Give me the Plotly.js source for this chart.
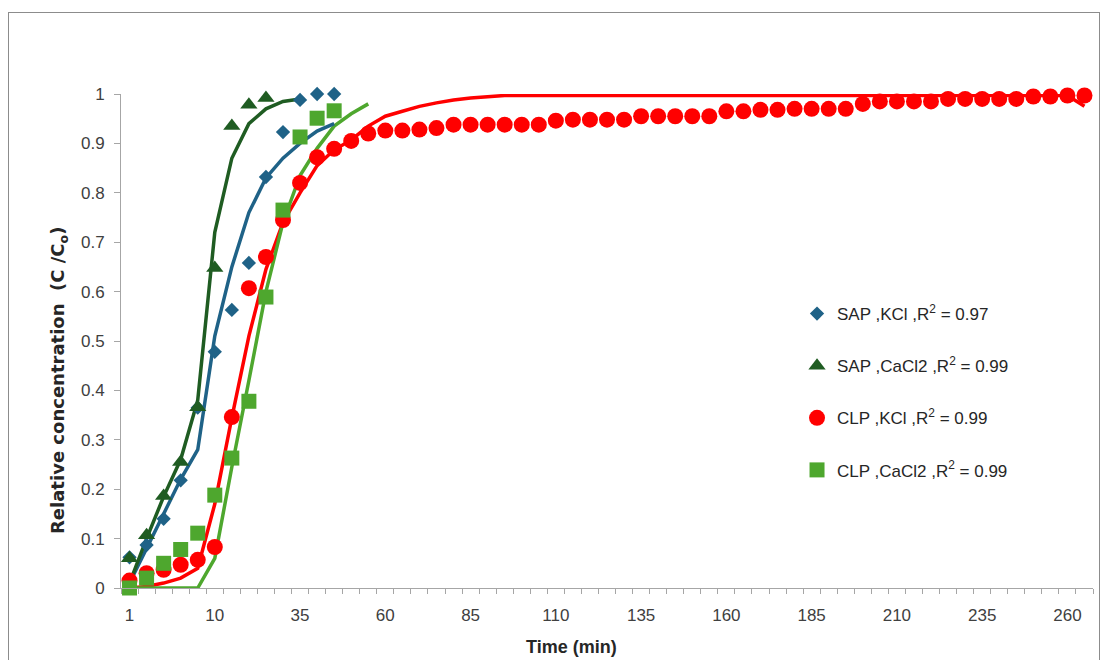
<!DOCTYPE html>
<html>
<head>
<meta charset="utf-8">
<script src="https://cdn.plot.ly/plotly-3.0.1.min.js"></script>
<style>
  html, body { margin: 0; padding: 0; background: #ffffff; }
  #wrap { position: relative; width: 1108px; height: 660px; overflow: hidden; }
  #chart { position: absolute; left: 0; top: 0; width: 1108px; height: 660px; }
  #frame { position: absolute; left: 8px; top: 12px; width: 1092px; height: 700px;
           border: 1px solid #8c8c8c; box-sizing: border-box; pointer-events: none; }
</style>
</head>
<body>
<div id="wrap">
  <div id="chart"></div>
  <div id="frame"></div>
</div>
<script>
// ---- categories (time, min) ----
const times = [1, 2, 4, 6, 8, 10, 15, 20, 25, 30, 35, 40, 45, 50, 55, 60, 65, 70, 75, 80,
  85, 90, 95, 100, 105, 110, 115, 120, 125, 130, 135, 140, 145, 150, 155, 160, 165, 170, 175, 180,
  185, 190, 195, 200, 205, 210, 215, 220, 225, 230, 235, 240, 245, 250, 255, 260, 265];

// ---- measured data ----
const sapKCl = [0.062, 0.087, 0.14, 0.218, 0.365, 0.478, 0.563, 0.658, 0.832, 0.923, 0.988, 1.0, 1.0];
const sapCaCl2 = [0.06, 0.107, 0.186, 0.255, 0.366, 0.648, 0.935, 0.978, 0.992];
const clpKCl = [0.015, 0.03, 0.037, 0.047, 0.057, 0.083, 0.346, 0.607, 0.67, 0.745,
  0.82, 0.872, 0.889, 0.905, 0.92, 0.926, 0.926, 0.928, 0.931, 0.938,
  0.938, 0.938, 0.938, 0.938, 0.938, 0.946, 0.948, 0.948, 0.948, 0.948,
  0.955, 0.955, 0.955, 0.955, 0.955, 0.965, 0.965, 0.968, 0.968, 0.970,
  0.970, 0.970, 0.970, 0.980, 0.985, 0.985, 0.985, 0.985, 0.990, 0.990,
  0.990, 0.990, 0.990, 0.995, 0.995, 0.997, 0.997];
const clpCaCl2 = [0.0, 0.02, 0.05, 0.078, 0.111, 0.188, 0.263, 0.378, 0.589, 0.765, 0.913, 0.951, 0.966];

// ---- model fits ----
const sapKClFit = [0.01, 0.08, 0.15, 0.22, 0.28, 0.51, 0.65, 0.76, 0.83, 0.87, 0.90, 0.925, 0.94];
const sapCaCl2Fit = [0.01, 0.10, 0.185, 0.26, 0.38, 0.72, 0.87, 0.94, 0.97, 0.985, 0.99];
const clpKClFit = [0.0, 0.003, 0.01, 0.02, 0.04, 0.17, 0.345, 0.51, 0.645, 0.74,
  0.80, 0.855, 0.887, 0.907, 0.935, 0.955, 0.965, 0.975, 0.982, 0.988,
  0.992, 0.995, 0.997, 0.997, 0.997, 0.997, 0.997, 0.997, 0.997, 0.997,
  0.997, 0.997, 0.997, 0.997, 0.997, 0.997, 0.997, 0.997, 0.997, 0.997,
  0.997, 0.997, 0.997, 0.997, 0.997, 0.997, 0.997, 0.997, 0.997, 0.997,
  0.997, 0.997, 0.997, 0.997, 0.997, 0.997, 0.975];
const clpCaCl2Fit = [0, 0, 0, 0, 0, 0.06, 0.245, 0.42, 0.60, 0.74, 0.835, 0.89, 0.935, 0.96, 0.98];

// ---- legend labels ----
const names = [
  'SAP ,KCl ,R<sup>2</sup> = 0.97',
  'SAP ,CaCl2 ,R<sup>2</sup> = 0.99',
  'CLP ,KCl ,R<sup>2</sup> = 0.99',
  'CLP ,CaCl2 ,R<sup>2</sup> = 0.99'
];
const labelStep = 5;
const yTicks = [0, 0.1, 0.2, 0.3, 0.4, 0.5, 0.6, 0.7, 0.8, 0.9, 1];

// ---- styling ----
const cBlue = '#1f6287', cDark = '#1f5c22', cRed = '#ff0000', cLight = '#4ea72e';
const idx = arr => arr.map((_, i) => i);

function fitLine(vals, color) {
  return { type: 'scatter', mode: 'lines', x: idx(vals), y: vals, showlegend: false,
           hoverinfo: 'skip', line: { color: color, width: 3.5 }, cliponaxis: false };
}
function pts(vals, name, symbol, size, color, group) {
  return { type: 'scatter', mode: 'markers', x: idx(vals), y: vals, name: name,
           legendgroup: group, cliponaxis: false,
           marker: { symbol: symbol, size: size, color: color, line: { width: 0 } } };
}

const traces = [
  fitLine(clpKClFit, cRed),
  fitLine(clpCaCl2Fit, cLight),
  fitLine(sapKClFit, cBlue),
  fitLine(sapCaCl2Fit, cDark),
  pts(sapKCl, names[0], 'diamond', 11, cBlue, 'g1'),
  pts(sapCaCl2, names[1], 'triangle-up', 15, cDark, 'g2'),
  pts(clpKCl, names[2], 'circle', 16, cRed, 'g3'),
  pts(clpCaCl2, names[3], 'square', 15, cLight, 'g4')
];

const labelIdx = [], labelText = [];
times.forEach((t, i) => { if (i % labelStep === 0) { labelIdx.push(i); labelText.push(String(t)); } });
const boundaries = times.map((_, i) => i - 0.5).concat([times.length - 0.5]);

const font = 'Liberation Sans, Arial, sans-serif';
const axisGray = '#a6a6a6';

const layout = {
  width: 1108, height: 660,
  margin: { l: 121, r: 15, t: 94, b: 72 },
  paper_bgcolor: '#ffffff', plot_bgcolor: '#ffffff',
  font: { family: font, size: 17, color: '#404040' },
  showlegend: true,
  legend: {
    x: 0.6955, xanchor: 'left', y: 0.591, yanchor: 'top',
    bgcolor: 'rgba(0,0,0,0)', borderwidth: 0,
    font: { family: font, size: 17, color: '#262626' },
    traceorder: 'grouped', tracegroupgap: 27, itemwidth: 30
  },
  xaxis: {
    type: 'linear', range: [-0.5, times.length - 0.5],
    tickmode: 'array', tickvals: labelIdx, ticktext: labelText, ticks: '',
    ticklabelstandoff: 12,
    showgrid: false, zeroline: false, showline: true, linecolor: axisGray, linewidth: 1,
    tickfont: { family: font, size: 17, color: '#404040' },
    minor: { tickmode: 'array', tickvals: boundaries, ticks: 'outside', ticklen: 5,
             tickwidth: 1, tickcolor: axisGray, showgrid: false }
  },
  yaxis: {
    range: [0, 1], tickmode: 'array', tickvals: yTicks, ticktext: yTicks.map(String),
    ticks: 'outside', ticklen: 6, tickwidth: 1, tickcolor: axisGray,
    ticklabelstandoff: 6,
    showgrid: false, zeroline: false, showline: true, linecolor: axisGray, linewidth: 1,
    tickfont: { family: font, size: 17, color: '#404040' }
  },
  annotations: [
    { text: 'Relative concentration\u00a0\u00a0(C /C<sub>o</sub>)', textangle: -90,
      xref: 'paper', yref: 'paper', x: -0.0638, y: 0.421, xanchor: 'center', yanchor: 'middle',
      showarrow: false, font: { family: 'DejaVu Sans, sans-serif', size: 18, weight: 'bold', color: '#262626' } },
    { text: 'Time (min)', xref: 'paper', yref: 'paper', x: 0.463, y: -0.119,
      xanchor: 'center', yanchor: 'middle', showarrow: false,
      font: { family: font, size: 18, weight: 'bold', color: '#262626' } }
  ]
};

Plotly.newPlot('chart', traces, layout, { displayModeBar: false, staticPlot: true });
</script>
</body>
</html>
